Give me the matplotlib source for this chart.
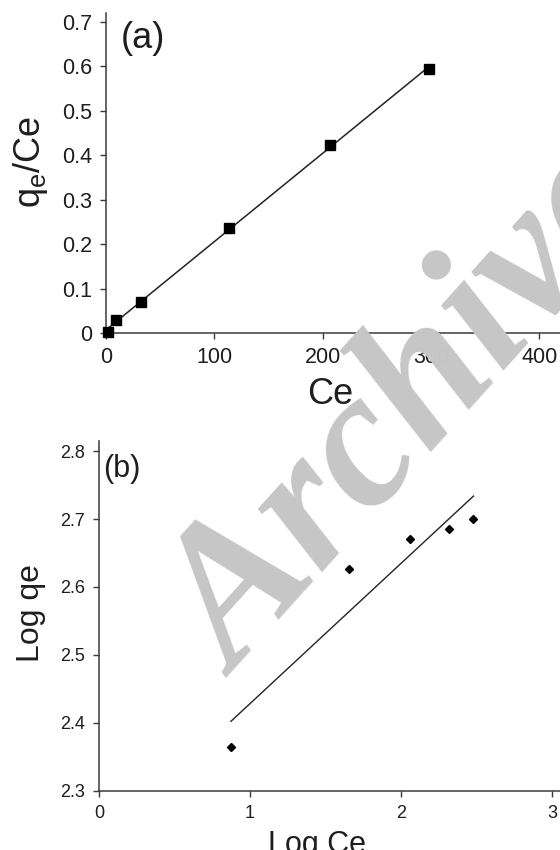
import numpy as np
import matplotlib
matplotlib.use("Agg")
import matplotlib.pyplot as plt
from matplotlib.ticker import FuncFormatter

plt.rcParams["font.family"] = ["Liberation Sans", "DejaVu Sans"]
plt.rcParams["mathtext.default"] = "regular"

# Langmuir plot: qe/Ce against Ce
ce = [1.5, 9, 32, 113.6, 206.8, 298.5]
qe_over_ce = [0.002, 0.029, 0.07, 0.237, 0.423, 0.595]

# Freundlich plot: log qe against log Ce
log_ce = [0.874, 1.655, 2.057, 2.32, 2.48]
log_qe = [2.365, 2.627, 2.670, 2.685, 2.700]

a_xticks = [0, 100, 200, 300, 400]
a_yticks = [0, 0.1, 0.2, 0.3, 0.4, 0.5, 0.6, 0.7]
b_xticks = [0, 1, 2, 3]
b_yticks = [2.3, 2.4, 2.5, 2.6, 2.7, 2.8]

W, H = 560, 850
fig = plt.figure(figsize=(W / 100, H / 100), dpi=100)

def px_axes(left, top, right, bottom):
    return fig.add_axes([left / W, 1 - bottom / H, (right - left) / W, (bottom - top) / H])

spine_col = "#3a3a3a"
text_col = "#1e1e1e"
fmt = FuncFormatter(lambda v, p: "%g" % v)

def style(ax, fs):
    for s in ("top", "right"):
        ax.spines[s].set_visible(False)
    for s in ("left", "bottom"):
        ax.spines[s].set_color(spine_col)
        ax.spines[s].set_linewidth(1.1)
    ax.tick_params(direction="out", length=4, width=1.0, colors=spine_col,
                   labelcolor=text_col, labelsize=fs, pad=6)
    ax.xaxis.set_major_formatter(fmt)
    ax.yaxis.set_major_formatter(fmt)

# ---- panel (a)
ax1 = px_axes(106, 13, 560, 333)
ax1.set_xlim(0, 419)
ax1.set_ylim(0, 0.72)
ax1.set_xticks(a_xticks)
ax1.set_yticks(a_yticks)
style(ax1, 15.5)
fit_a = np.polyfit(ce, qe_over_ce, 1)
xa = np.array([min(ce), max(ce)])
ax1.plot(xa, np.polyval(fit_a, xa), color="#222222", lw=1.1, zorder=2)
ax1.plot(ce, qe_over_ce, "s", color="black", ms=6.5, zorder=3, clip_on=False)
fig.text(121 / W, 1 - 38 / H, "(a)", fontsize=26, color=text_col, ha="left", va="center")
fig.text(31 / W, 1 - 162 / H, "q$_e$/Ce", fontsize=26, color=text_col,
         rotation=90, ha="center", va="center")
fig.text(330 / W, 1 - 395 / H, "Ce", fontsize=26, color=text_col, ha="center", va="center")

# ---- panel (b)
ax2 = px_axes(99, 441, 560, 790.7)
ax2.set_xlim(0, 3.053)
ax2.set_ylim(2.3, 2.815)
ax2.set_xticks(b_xticks)
ax2.set_yticks(b_yticks)
style(ax2, 13)
fit_b = np.polyfit(log_ce, log_qe, 1)
xb = np.array([min(log_ce), max(log_ce)])
ax2.plot(xb, np.polyval(fit_b, xb), color="#222222", lw=1.0, zorder=2)
ax2.plot(log_ce, log_qe, "D", color="black", ms=4.5, zorder=3)
fig.text(103 / W, 1 - 469 / H, "(b)", fontsize=22, color=text_col, ha="left", va="center")
fig.text(31 / W, 1 - 613 / H, "Log qe", fontsize=23, color=text_col,
         rotation=90, ha="center", va="center")
fig.text(317 / W, 1 - 853 / H, "Log Ce", fontsize=22, color=text_col,
         ha="center", va="baseline")

# ---- watermark
fig.text(412 / W, 1 - 415 / H, "Archive", fontsize=140, color="#c6c6c6",
         family=["Liberation Serif", "DejaVu Serif"], style="italic", weight="bold",
         rotation=48, rotation_mode="anchor", ha="center", va="center", zorder=10)

fig.savefig("out.png", dpi=100)
